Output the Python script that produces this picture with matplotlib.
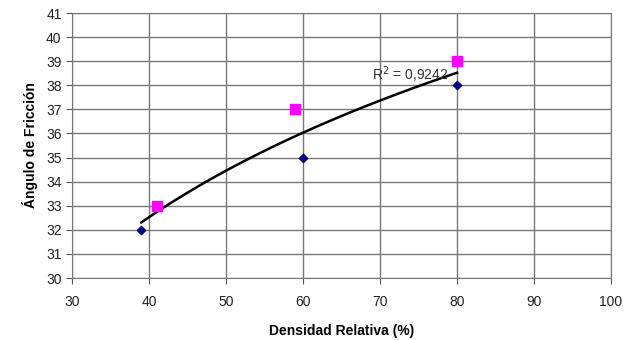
import numpy as np
import matplotlib
matplotlib.use("Agg")
import matplotlib.pyplot as plt

plt.rcParams['font.family'] = ['Liberation Sans', 'DejaVu Sans']

# datos
dr_rombo = [39, 60, 80]
ang_rombo = [32, 35, 38]
dr_cuadro = [41, 59, 80]
ang_cuadro = [33, 37, 39]
r2_texto = "0,9242"

# linea de tendencia logaritmica con todos los puntos
x_all = np.array(dr_rombo + dr_cuadro, dtype=float)
y_all = np.array(ang_rombo + ang_cuadro, dtype=float)
a, b = np.polyfit(np.log(x_all), y_all, 1)
xs = np.linspace(x_all.min(), x_all.max(), 100)

fig = plt.figure(figsize=(6.28, 3.4), dpi=100)
ax = fig.add_axes([72 / 628, 1 - 278 / 340, (611 - 72) / 628, (278 - 13) / 340])

ax.plot(xs, a * np.log(xs) + b, color='black', lw=1.8, zorder=3)
ax.scatter(dr_rombo, ang_rombo, marker='D', s=18, color='#000080', zorder=4)
ax.scatter(dr_cuadro, ang_cuadro, marker='s', s=45, color='#FF00FF', zorder=4)

ax.text(69, 38.45, "R$^2$ = " + r2_texto, fontsize=10,
        ha='left', va='center', color='#333333', zorder=5)

ax.set_xlim(30, 100)
ax.set_ylim(30, 41)
ax.set_xticks(range(30, 101, 10))
ax.set_yticks(range(30, 42))
ax.grid(True, color='#777777', lw=1.0)
ax.set_axisbelow(True)
for s in ax.spines.values():
    s.set_color('#777777')
ax.tick_params(direction='out', length=4, color='#555555', labelsize=10, labelcolor='#222222')
ax.tick_params(axis='x', pad=8)

ax.set_xlabel("Densidad Relativa (%)", fontsize=10, fontweight='bold', labelpad=11)
ax.set_ylabel("Ángulo de Fricción", fontsize=10, fontweight='bold', labelpad=6)

fig.savefig("out.png", dpi=100)
